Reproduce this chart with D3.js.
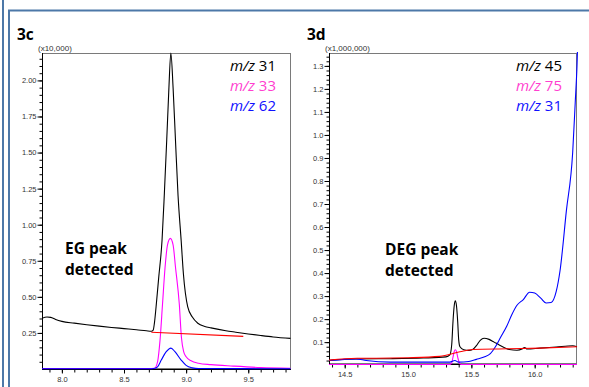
<!DOCTYPE html>
<html><head><meta charset="utf-8">
<script src="https://cdn.jsdelivr.net/npm/d3@7"></script>
<style>
html,body{margin:0;padding:0;background:#fff;}
svg{display:block;}
</style></head>
<body>
<svg id="c" width="589" height="387"></svg>
<script>
// ---------- DATA ----------
// Panel 3c (x10,000), retention time in minutes
const c_mz31 = [[7.84,0.352],[7.88,0.36],[7.91,0.358],[7.95,0.343],[8.0,0.330],[8.1,0.318],[8.2,0.307],[8.3,0.297],[8.4,0.288],[8.5,0.28],[8.6,0.272],[8.68,0.265],[8.72,0.262],[8.735,0.27],[8.745,0.32],[8.758,0.43],[8.78,0.64],[8.806,0.89],[8.825,1.22],[8.844,1.59],[8.86,1.92],[8.877,2.19],[8.895,1.95],[8.914,1.59],[8.935,1.2],[8.96,0.89],[8.978,0.66],[9.013,0.43],[9.05,0.36],[9.094,0.317],[9.15,0.295],[9.2,0.285],[9.32,0.265],[9.4,0.255],[9.5,0.243],[9.6,0.232],[9.7,0.222],[9.84,0.212]];
const c_mz33 = [[7.84,0.003],[8.7,0.003],[8.745,0.005],[8.77,0.05],[8.79,0.2],[8.81,0.45],[8.83,0.7],[8.85,0.86],[8.873,0.905],[8.895,0.86],[8.915,0.7],[8.945,0.45],[8.962,0.22],[8.98,0.12],[9.0,0.085],[9.04,0.057],[9.1,0.04],[9.2,0.03],[9.38,0.02],[9.6,0.01],[9.84,0.005]];
const c_mz62 = [[7.84,0.002],[8.72,0.002],[8.74,0.003],[8.77,0.015],[8.80,0.062],[8.84,0.12],[8.878,0.145],[8.91,0.12],[8.96,0.062],[9.0,0.025],[9.05,0.008],[9.1,0.003],[9.84,0.002]];
const c_base = [[8.72,0.255],[9.46,0.226]];
const c_xTicks = [8.0,8.5,9.0,9.5];
const c_yTicks = [0.25,0.50,0.75,1.00,1.25,1.50,1.75,2.00];
const c_legend = ["31","33","62"];

// Panel 3d (x1,000,000)
const d_mz45 = [[14.376,0.02],[14.45,0.024],[14.59,0.027],[14.86,0.028],[15.12,0.031],[15.30,0.036],[15.33,0.045],[15.345,0.09],[15.355,0.19],[15.365,0.26],[15.373,0.28],[15.382,0.26],[15.392,0.19],[15.40,0.11],[15.41,0.08],[15.44,0.067],[15.48,0.064],[15.51,0.068],[15.54,0.085],[15.57,0.108],[15.60,0.117],[15.64,0.112],[15.68,0.1],[15.72,0.088],[15.80,0.068],[15.86,0.065],[15.90,0.07],[15.92,0.077],[15.94,0.07],[16.04,0.074],[16.17,0.079],[16.30,0.084],[16.334,0.08]];
const d_mz75 = [[14.376,0.003],[15.33,0.003],[15.345,0.01],[15.355,0.035],[15.365,0.06],[15.373,0.067],[15.382,0.06],[15.392,0.035],[15.405,0.01],[15.42,0.003],[16.334,0.003]];
const d_mz31 = [[14.376,0.02],[14.5,0.025],[14.59,0.027],[14.67,0.02],[14.86,0.013],[15.12,0.013],[15.33,0.013],[15.37,0.02],[15.40,0.013],[15.48,0.016],[15.54,0.025],[15.60,0.035],[15.65,0.05],[15.69,0.08],[15.73,0.12],[15.78,0.17],[15.82,0.22],[15.86,0.26],[15.91,0.285],[15.96,0.317],[16.0,0.313],[16.05,0.29],[16.09,0.27],[16.13,0.272],[16.17,0.32],[16.20,0.41],[16.25,0.67],[16.30,0.925],[16.32,1.14],[16.334,1.3],[16.345,1.5]];
const d_base = [[14.376,0.022],[14.6,0.03],[14.75,0.03],[15.0,0.032],[15.25,0.038],[15.41,0.058],[15.51,0.068],[15.78,0.071],[16.04,0.074],[16.334,0.08]];
const d_xTicks = [14.5,15.0,15.5,16.0];
const d_yTicks = [0.1,0.2,0.3,0.4,0.5,0.6,0.7,0.8,0.9,1.0,1.1,1.2,1.3];
const d_legend = ["45","75","31"];

const seriesColors = ["#000000","#ff00ff","#0000ff"];
const legendColors = ["#000000","#ff3fcf","#1010ff"];
const baseColor = "#ff0000";

// ---------- DRAW ----------
const svg = d3.select("#c");
const frameColor = "#4d78a8";
svg.append("line").attr("x1",3).attr("x2",3).attr("y1",0).attr("y2",387).attr("stroke",frameColor).attr("stroke-width",2);
svg.append("line").attr("x1",9).attr("x2",9).attr("y1",10).attr("y2",387).attr("stroke",frameColor).attr("stroke-width",2);
svg.append("line").attr("x1",8).attr("x2",589).attr("y1",10.5).attr("y2",10.5).attr("stroke",frameColor).attr("stroke-width",2);

function range(a,b,s){const r=[];for(let v=a;v<=b+1e-9;v+=s)r.push(+v.toFixed(4));return r;}

function panel(cfg){
  const g = svg.append("g");
  const x = d3.scaleLinear().domain(cfg.xDom).range([cfg.left,cfg.right]);
  const y = d3.scaleLinear().domain(cfg.yDom).range([cfg.bottom,cfg.top]);
  const id = "clip"+cfg.name;
  svg.append("defs").append("clipPath").attr("id",id).append("rect")
    .attr("x",cfg.left).attr("y",cfg.top-1).attr("width",cfg.right-cfg.left+1).attr("height",cfg.bottom-cfg.top+2);

  // title
  g.append("text").attr("x",cfg.titleX).attr("y",40).text(cfg.title)
    .attr("font-family","Open Sans, sans-serif").attr("font-weight","bold").attr("font-size",15.5);
  // multiplier
  g.append("text").attr("x",cfg.left-4).attr("y",51).text(cfg.mult)
    .attr("font-family","Liberation Sans, Arial, sans-serif").attr("font-size",8).attr("fill","#333");

  // box
  g.append("rect").attr("x",cfg.left+0.5).attr("y",cfg.top+0.5)
    .attr("width",cfg.right-cfg.left-1).attr("height",cfg.bottom-cfg.top-1)
    .attr("fill","none").attr("stroke","#7a7a7a").attr("stroke-width",1);

  // y axis
  const yMinor = g.append("g").attr("transform",`translate(${cfg.left+0.5},0)`)
    .call(d3.axisLeft(y).tickValues(cfg.yMinor).tickSize(3).tickFormat(""));
  yMinor.select(".domain").remove();
  const yMaj = g.append("g").attr("transform",`translate(${cfg.left+0.5},0)`)
    .call(d3.axisLeft(y).tickValues(cfg.yTicks).tickSize(5).tickSizeOuter(0).tickFormat(d3.format(cfg.yFmt)).tickPadding(1));
  yMaj.select(".domain").attr("d",`M0,${cfg.top}V${cfg.bottom}`);
  // x axis
  const xMinor = g.append("g").attr("transform",`translate(0,${cfg.bottom+0.5})`)
    .call(d3.axisBottom(x).tickValues(cfg.xMinor).tickSize(3).tickFormat(""));
  xMinor.select(".domain").remove();
  const xMaj = g.append("g").attr("transform",`translate(0,${cfg.bottom+0.5})`)
    .call(d3.axisBottom(x).tickValues(cfg.xTicks).tickSize(4).tickSizeOuter(0).tickFormat(d3.format(".1f")).tickPadding(3));
  xMaj.select(".domain").attr("d",`M${cfg.left},0H${cfg.right}`);
  g.selectAll(".tick text").attr("font-family","Liberation Sans, Arial, sans-serif").attr("font-size",7.5).attr("fill","#333");
  g.selectAll(".tick line").attr("stroke","#000");

  // lines
  const line = d3.line().x(d=>x(d[0])).y(d=>y(d[1])).curve(d3.curveMonotoneX);
  const lg = g.append("g").attr("clip-path",`url(#${id})`);
  cfg.series.forEach((s,i)=>{
    lg.append("path").attr("d",line(s)).attr("fill","none").attr("stroke",seriesColors[i]).attr("stroke-width",1.1);
  });
  lg.append("path").attr("d",line(cfg.base)).attr("fill","none").attr("stroke",baseColor).attr("stroke-width",1.1);

  // legend
  cfg.legend.forEach((t,i)=>{
    const tx = g.append("text").attr("x",cfg.right-15).attr("y",71+i*20).attr("text-anchor","end")
      .attr("font-family","Open Sans, sans-serif").attr("font-size",15).attr("fill",legendColors[i]);
    tx.append("tspan").attr("font-style","italic").text("m/z");
    tx.append("tspan").text(" "+t);
  });

  // annotation
  cfg.note.forEach((t,i)=>{
    g.append("text").attr("x",cfg.noteX).attr("y",cfg.noteY+i*21).text(t)
      .attr("font-family","Open Sans, sans-serif").attr("font-weight","bold").attr("font-size",15.5);
  });
}

panel({name:"c",title:"3c",titleX:17,mult:"(x10,000)",left:42,right:291,top:53,bottom:369,
  xDom:[7.84,9.844],yDom:[0,2.19],xTicks:c_xTicks,yTicks:c_yTicks,
  xMinor:range(7.9,9.8,0.1),yMinor:range(0.05,2.15,0.05),yFmt:".2f",
  series:[c_mz31,c_mz33,c_mz62],base:c_base,legend:c_legend,
  note:["EG peak","detected"],noteX:65,noteY:254});

panel({name:"d",title:"3d",titleX:307,mult:"(x1,000,000)",left:329,right:577,top:53,bottom:364,
  xDom:[14.376,16.334],yDom:[0.005,1.356],xTicks:d_xTicks,yTicks:d_yTicks,
  xMinor:range(14.4,16.3,0.1),yMinor:range(0.02,1.34,0.02),yFmt:".1f",
  series:[d_mz45,d_mz75,d_mz31],base:d_base,legend:d_legend,
  note:["DEG peak","detected"],noteX:385,noteY:255});
</script>
</body></html>
